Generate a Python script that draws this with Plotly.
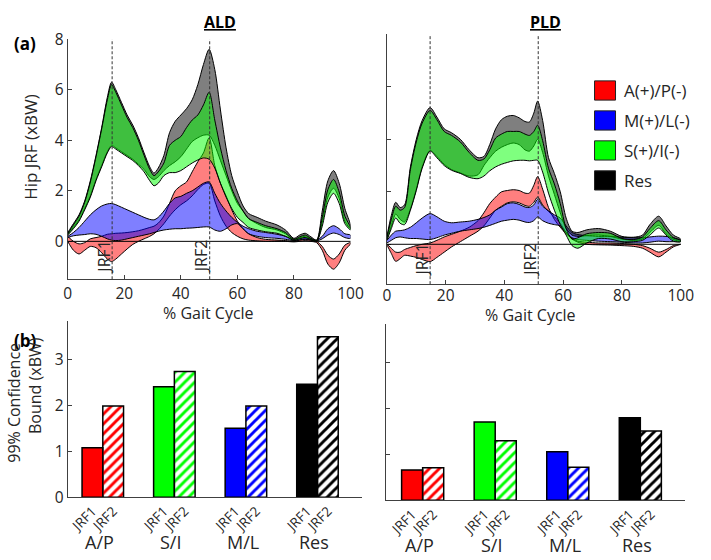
import plotly.graph_objects as go

# ---------------- data ----------------
ald_x = [0, 2, 4, 6, 8, 10, 12, 14, 15.5, 17, 19, 21, 23, 25, 27, 29, 30.5, 32, 34, 36, 38, 40, 42, 44,
         46, 48, 50, 52, 54, 56, 58, 60, 62, 64, 67, 70, 74, 77, 80, 82, 84, 86, 88, 90, 92, 94, 96, 98, 100]
ald_res_hi = [0.35, 0.7, 1.05, 1.6, 2.4, 3.4, 4.5, 5.7, 6.3, 6.0, 5.5, 5.0, 4.6, 4.1, 3.5, 2.95,
              2.7, 2.9, 3.4, 4.3, 4.75, 5.0, 5.25, 5.6, 6.2, 7.0, 7.6, 6.8, 5.2, 3.7, 2.6, 1.95,
              1.4, 1.1, 0.95, 0.8, 0.65, 0.45, 0.12, 0.25, 0.32, 0.18, 0.05, 1.2, 2.4, 2.8, 2.3, 1.3, 0.65]
ald_res_lo = [0.28, 0.55, 0.85, 1.3, 1.8, 2.45, 3.0, 3.55, 3.8, 3.7, 3.55, 3.4, 3.25, 3.05, 2.85, 2.55,
              2.45, 2.55, 2.8, 3.0, 3.15, 3.35, 3.65, 3.95, 4.1, 4.2, 4.2, 3.8, 3.2, 2.6, 2.0, 1.5,
              1.2, 0.9, 0.7, 0.55, 0.45, 0.3, 0.06, 0.14, 0.2, 0.1, 0.02, 0.75, 1.75, 2.1, 1.7, 0.8, 0.5]
ald_si_hi = [0.3, 0.65, 1.0, 1.55, 2.35, 3.35, 4.45, 5.6, 6.2, 5.9, 5.4, 4.9, 4.5, 4.0, 3.4, 2.85,
             2.6, 2.75, 3.1, 3.8, 4.0, 4.15, 4.5, 4.8, 5.0, 5.4, 5.9, 4.8, 3.7, 2.8, 2.1, 1.6,
             1.2, 0.9, 0.75, 0.62, 0.5, 0.35, 0.08, 0.18, 0.25, 0.12, 0.03, 0.95, 2.05, 2.45, 1.95, 1.0, 0.55]
ald_si_lo = [0.25, 0.5, 0.8, 1.25, 1.75, 2.4, 2.95, 3.5, 3.75, 3.65, 3.5, 3.35, 3.2, 3.0, 2.75, 2.4,
             2.2, 2.3, 2.6, 2.72, 2.72, 2.8, 2.95, 3.1, 3.22, 3.3, 3.25, 2.9, 2.3, 1.75, 1.3, 0.95,
             0.75, 0.55, 0.45, 0.38, 0.32, 0.2, 0.04, 0.1, 0.15, 0.07, 0.0, 0.6, 1.55, 1.9, 1.5, 0.7, 0.45]
ald_ap_hi = [0.2, 0.0, -0.1, -0.05, 0.1, 0.15, 0.2, 0.28, 0.3, 0.32, 0.33, 0.35, 0.38, 0.42, 0.48, 0.55,
             0.6, 0.72, 1.0, 1.5, 2.0, 2.2, 2.35, 2.75, 3.15, 3.5, 4.1, 3.0, 2.3, 1.8, 1.25, 0.8,
             0.5, 0.3, 0.15, 0.08, 0.05, 0.03, 0.0, 0.05, 0.1, 0.05, 0.0, -0.2, -0.55, -0.7, -0.5, -0.15, -0.05]
ald_ap_lo = [0.0, -0.35, -0.5, -0.35, -0.2, -0.25, -0.45, -0.7, -0.8, -0.7, -0.5, -0.3, -0.12, 0.0, 0.1, 0.2,
             0.3, 0.45, 0.7, 1.0, 1.25, 1.45, 1.6, 1.8, 2.05, 2.25, 2.3, 1.6, 1.0, 0.6, 0.35, 0.2,
             0.1, 0.05, 0.02, 0.0, 0.0, 0.0, -0.02, 0.0, 0.03, 0.0, -0.05, -0.35, -0.9, -1.1, -0.85, -0.35, -0.1]
ald_ml_hi = [0.2, 0.35, 0.55, 0.8, 1.05, 1.25, 1.4, 1.48, 1.5, 1.45, 1.35, 1.25, 1.15, 1.05, 0.95, 0.87,
             0.85, 0.95, 1.2, 1.5, 1.72, 1.78, 1.9, 2.0, 2.15, 2.3, 2.35, 1.9, 1.5, 1.2, 0.95, 0.75,
             0.6, 0.5, 0.4, 0.35, 0.28, 0.2, 0.08, 0.12, 0.15, 0.1, 0.05, 0.2, 0.5, 0.62, 0.5, 0.3, 0.25]
ald_ml_lo = [0.15, 0.22, 0.25, 0.27, 0.3, 0.28, 0.2, 0.1, 0.05, 0.03, 0.05, 0.1, 0.15, 0.2, 0.25, 0.3,
             0.35, 0.4, 0.45, 0.48, 0.5, 0.5, 0.52, 0.53, 0.55, 0.57, 0.57, 0.45, 0.4, 0.5, 0.65, 0.7,
             0.5, 0.3, 0.2, 0.15, 0.12, 0.08, 0.03, 0.06, 0.08, 0.05, 0.02, 0.1, 0.25, 0.33, 0.27, 0.15, 0.12]

pld_x = [0, 1.5, 3, 4.5, 6, 8, 10, 12, 14.7, 17, 19.5, 22, 25, 28, 31, 33, 35, 37, 39, 41, 43, 45, 47, 48.5,
         50, 51.3, 53, 55, 57, 59, 61, 63, 65, 68, 72, 76, 80, 84, 87, 89.5, 92.5, 95, 97.5, 100]
pld_res_hi = [0.3, 1.1, 1.6, 1.4, 1.5, 2.95, 4.0, 4.72, 5.21, 4.85, 4.4, 4.25, 4.0, 3.6, 3.3, 3.35,
              3.8, 4.4, 4.75, 4.88, 4.91, 4.82, 4.68, 4.66, 5.0, 5.46, 4.72, 3.3, 2.7, 2.0, 1.0, 0.5,
              0.45, 0.55, 0.6, 0.5, 0.3, 0.27, 0.35, 0.75, 1.07, 0.7, 0.35, 0.2]
pld_res_lo = [0.2, 0.7, 1.15, 0.95, 0.85, 1.35, 2.1, 2.95, 3.58, 3.35, 3.05, 2.85, 2.72, 2.6, 2.65, 3.0,
              3.3, 3.55, 3.7, 3.8, 3.86, 3.8, 3.6, 3.55, 3.75, 4.0, 3.5, 2.6, 1.9, 1.2, 0.6, 0.35,
              0.3, 0.33, 0.35, 0.3, 0.2, 0.15, 0.2, 0.45, 0.72, 0.4, 0.18, 0.12]
pld_si_hi = [0.25, 0.95, 1.45, 1.3, 1.4, 2.85, 3.9, 4.62, 5.1, 4.75, 4.3, 4.15, 3.9, 3.5, 3.2, 3.25,
             3.6, 4.05, 4.2, 4.3, 4.3, 4.3, 4.2, 4.15, 4.3, 4.54, 3.95, 2.9, 2.3, 1.55, 0.6, 0.2,
             0.25, 0.4, 0.45, 0.42, 0.22, 0.18, 0.28, 0.6, 0.9, 0.55, 0.25, 0.15]
pld_si_lo = [0.15, 0.6, 1.0, 0.8, 0.75, 1.3, 2.05, 2.9, 3.55, 3.3, 3.0, 2.82, 2.7, 2.55, 2.5, 2.6,
             2.8, 2.95, 3.05, 3.12, 3.18, 3.2, 3.2, 3.18, 3.2, 3.2, 2.75, 1.95, 1.3, 0.75, 0.35, -0.05,
             -0.15, 0.05, 0.22, 0.2, 0.1, 0.1, 0.15, 0.35, 0.62, 0.35, 0.12, 0.1]
pld_ap_hi = [0.0, -0.15, -0.3, -0.3, -0.2, -0.12, -0.05, 0.0, 0.05, 0.15, 0.28, 0.38, 0.5, 0.65, 0.9, 1.2,
             1.55, 1.8, 2.0, 2.05, 2.08, 2.05, 1.95, 1.95, 2.25, 2.58, 2.1, 1.4, 0.95, 0.65, 0.4, 0.22,
             0.12, 0.08, 0.05, 0.05, 0.03, 0.0, -0.05, -0.15, -0.3, -0.2, -0.05, 0.0]
pld_ap_lo = [0.0, -0.35, -0.65, -0.55, -0.42, -0.45, -0.5, -0.58, -0.66, -0.5, -0.3, -0.1, 0.1, 0.3, 0.5, 0.7,
             1.0, 1.3, 1.45, 1.58, 1.62, 1.58, 1.48, 1.45, 1.6, 1.8, 1.5, 1.25, 1.05, 0.8, 0.45, 0.2,
             0.08, 0.0, -0.02, -0.03, -0.05, -0.08, -0.15, -0.3, -0.48, -0.3, -0.1, 0.0]
pld_ml_hi = [0.15, 0.35, 0.5, 0.52, 0.55, 0.65, 0.82, 1.0, 1.17, 1.05, 0.88, 0.82, 0.85, 0.88, 0.95, 1.02,
             1.12, 1.3, 1.42, 1.55, 1.58, 1.52, 1.42, 1.4, 1.5, 1.72, 1.45, 1.28, 1.12, 1.0, 0.7, 0.45,
             0.37, 0.33, 0.3, 0.3, 0.27, 0.25, 0.25, 0.28, 0.31, 0.3, 0.25, 0.15]
pld_ml_lo = [0.05, 0.15, 0.25, 0.28, 0.25, 0.22, 0.22, 0.2, 0.18, 0.25, 0.35, 0.42, 0.5, 0.55, 0.6, 0.65,
             0.72, 0.8, 0.88, 0.92, 0.95, 0.92, 0.85, 0.83, 0.9, 1.04, 0.9, 0.8, 0.75, 0.7, 0.45, 0.25,
             0.18, 0.15, 0.12, 0.1, 0.08, 0.05, 0.05, 0.08, 0.12, 0.1, 0.1, 0.1]

ald_jrf = [15.7, 50.2]
pld_jrf = [14.7, 51.5]
jrf_names = ["JRF1", "JRF2"]

components = ["A/P", "S/I", "M/L", "Res"]
ald_jrf1 = [1.08, 2.41, 1.50, 2.46]
ald_jrf2 = [1.99, 2.74, 1.99, 3.50]
pld_jrf1 = [0.66, 1.71, 1.06, 1.80]
pld_jrf2 = [0.71, 1.30, 0.72, 1.51]

legend_names = ["A(+)/P(-)", "M(+)/L(-)", "S(+)/I(-)", "Res"]

# ---------------- style ----------------
W, H = 711, 560
FONT = "Open Sans"
TXT = "#262626"
AXC = "#404040"
FILL = {"ap": "rgba(255,0,0,0.5)", "ml": "rgba(0,0,255,0.5)",
        "res": "rgba(0,0,0,0.5)", "si": "rgba(0,255,0,0.5)"}
SOLID = {"ap": "#ff0000", "ml": "#0000ff", "si": "#00ff00", "res": "#000000"}
bar_colors = ["#ff0000", "#00ff00", "#0000ff", "#000000"]


def px(x):
    return x / W


def py(y):
    return 1 - y / H


fig = go.Figure()


def add_band(x, lo, hi, color, xa, ya):
    fig.add_trace(go.Scatter(
        x=list(x) + list(x)[::-1], y=list(hi) + list(lo)[::-1],
        fill="toself", fillcolor=color, mode="lines",
        line=dict(color="black", width=1, shape="spline", smoothing=0.8),
        xaxis=xa, yaxis=ya, showlegend=False, hoverinfo="skip"))


ald = {"ap": (ald_ap_lo, ald_ap_hi), "ml": (ald_ml_lo, ald_ml_hi),
       "res": (ald_res_lo, ald_res_hi), "si": (ald_si_lo, ald_si_hi)}
pld = {"ap": (pld_ap_lo, pld_ap_hi), "ml": (pld_ml_lo, pld_ml_hi),
       "res": (pld_res_lo, pld_res_hi), "si": (pld_si_lo, pld_si_hi)}
for key in ["ap", "ml", "res", "si"]:
    add_band(ald_x, ald[key][0], ald[key][1], FILL[key], "x", "y")
    add_band(pld_x, pld[key][0], pld[key][1], FILL[key], "x2", "y2")

# bars
bw = 0.29
grp = [i + 1 for i in range(len(components))]
for vals1, vals2, xa, ya in [(ald_jrf1, ald_jrf2, "x3", "y3"), (pld_jrf1, pld_jrf2, "x4", "y4")]:
    fig.add_trace(go.Bar(x=[g - bw / 2 for g in grp], y=vals1, width=bw,
                         marker=dict(color=bar_colors, line=dict(color="black", width=1.5)),
                         xaxis=xa, yaxis=ya, showlegend=False, hoverinfo="skip"))
    fig.add_trace(go.Bar(x=[g + bw / 2 for g in grp], y=vals2, width=bw,
                         marker=dict(color=bar_colors, line=dict(color="black", width=1.5),
                                     pattern=dict(shape="/", fgcolor=bar_colors, bgcolor="white",
                                                  size=7, solidity=0.42, fillmode="replace")),
                         xaxis=xa, yaxis=ya, showlegend=False, hoverinfo="skip"))

tickpos = []
ticktxt = []
for g in grp:
    tickpos += [g - bw / 2, g + bw / 2]
    ticktxt += jrf_names

common = dict(showline=True, linecolor=AXC, linewidth=1, showgrid=False, zeroline=False,
              ticks="inside", ticklen=4, tickcolor=AXC, tickfont=dict(family=FONT, size=15.5, color=TXT))
barx = {**common, "ticks": "", "tickfont": dict(family=FONT, size=13.5, color=TXT)}

fig.update_layout(
    width=W, height=H, margin=dict(l=0, r=0, t=0, b=0),
    paper_bgcolor="white", plot_bgcolor="white", barmode="overlay", showlegend=False,
    xaxis=dict(domain=[px(65.3), px(355)], range=[0, 100], tickvals=[0, 20, 40, 60, 80, 100],
               anchor="y", **common),
    yaxis=dict(domain=[py(278.2), py(28.3)], range=[-1.5, 8], tickvals=[0, 2, 4, 6, 8],
               anchor="x", **common),
    xaxis2=dict(domain=[px(392.3), px(693.3)], range=[0, 100], tickvals=[0, 20, 40, 60, 80, 100],
                anchor="y2", ticklabelstandoff=-3, **common),
    yaxis2=dict(domain=[py(283.3), py(23.3)], range=[-1.52, 8], tickvals=[0, 2, 4, 6, 8],
                showticklabels=False, anchor="x2", **common),
    xaxis3=dict(domain=[px(65.3), px(366.6)], range=[0.51, 4.62], tickvals=tickpos, ticktext=ticktxt,
                tickangle=-45, anchor="y3", **barx),
    yaxis3=dict(domain=[py(505), py(321.7)], range=[0, 3.84], tickvals=[0, 1, 2, 3], anchor="x3", **common),
    xaxis4=dict(domain=[px(391), px(698)], range=[0.49, 4.62], tickvals=tickpos, ticktext=ticktxt,
                tickangle=-45, anchor="y4", **barx),
    yaxis4=dict(domain=[py(508.3), py(325)], range=[0, 3.84], tickvals=[0, 1, 2, 3],
                showticklabels=False, anchor="x4", **common),
)

shapes = []
annos = []
# zero lines + JRF dashed lines + JRF labels
for xa, ya, jrfs, ylab in [("x", "y", ald_jrf, -0.6), ("x2", "y2", pld_jrf, -0.58)]:
    shapes.append(dict(type="line", xref=xa + " domain", x0=0, x1=1, yref=ya, y0=0, y1=0,
                       line=dict(color="black", width=1), layer="above"))
    for jx, name in zip(jrfs, jrf_names):
        shapes.append(dict(type="line", xref=xa, x0=jx, x1=jx, yref=ya + " domain", y0=0, y1=1,
                           line=dict(color="#333333", width=1, dash="3px,2px"), layer="above"))
        annos.append(dict(text=name, xref=xa, yref=ya, x=jx, y=ylab, xshift=-9, showarrow=False,
                          xanchor="center", yanchor="middle",
                          textangle=-90, font=dict(family=FONT, size=16, color=TXT)))

# category labels under bars
for xa, ya in [("x3", "y3"), ("x4", "y4")]:
    for g, name in zip(grp, components):
        annos.append(dict(text=name, xref=xa, yref=ya + " domain", x=g, y=0, yshift=-45, xshift=-3,
                          xanchor="center", yanchor="middle",
                          showarrow=False, font=dict(family=FONT, size=18, color=TXT)))

# legend
leg_keys = ["ap", "ml", "si", "res"]
for i, (k, name) in enumerate(zip(leg_keys, legend_names)):
    top = 71.7 + i * 31.2
    shapes.append(dict(type="rect", xref="paper", yref="paper", x0=px(605), x1=px(626.5),
                       y0=py(top + 20), y1=py(top), fillcolor=SOLID[k],
                       line=dict(color="#222222", width=1)))
    annos.append(dict(text=name, xref="paper", yref="paper", x=px(633), y=py(top + 10),
                      xanchor="left", yanchor="middle", showarrow=False,
                      font=dict(family=FONT, size=17, color=TXT)))


def txt(text, x, y, size=16, angle=0, bold=False):
    annos.append(dict(text=text, xref="paper", yref="paper", x=px(x), y=py(y), showarrow=False,
                      xanchor="center", yanchor="middle", textangle=angle,
                      font=dict(family=FONT, size=size, color="black" if bold else TXT)))


txt("<b><u>ALD</u></b>", 221.7, 10, 16, bold=True)
txt("<b><u>PLD</u></b>", 555, 10, 16, bold=True)
txt("<b>(a)</b>", 22, 33, 17, bold=True)
txt("<b>(b)</b>", 22, 342, 17, bold=True)
txt("Hip JRF (xBW)", 27, 140, 17, angle=-90)
txt("% Gait Cycle", 210, 313, 16)
txt("% Gait Cycle", 539, 315, 16)
txt("99% Confidence", 10, 407, 16, angle=-90)
txt("Bound (xBW)", 31, 389, 16, angle=-90)

fig.update_layout(shapes=shapes, annotations=annos)
fig.write_html("out.html", config={"displayModeBar": False},
               post_script="document.body.style.margin='0';")
